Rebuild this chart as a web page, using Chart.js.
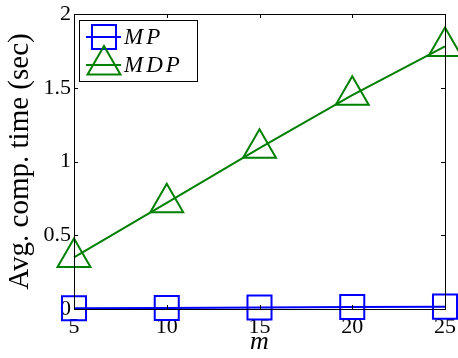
<!DOCTYPE html>
<html>
<head>
<meta charset="utf-8">
<script src="https://cdn.jsdelivr.net/npm/chart.js@4.4.0/dist/chart.umd.min.js"></script>
<style>
  html, body { margin: 0; padding: 0; background: #fff; }
  #wrap { width: 458px; height: 358px; position: relative; }
</style>
</head>
<body>
<div id="wrap"><canvas id="timeChart"></canvas></div>
<script>
const mValues = [5, 10, 15, 20, 25];
const mpTimes = [0.005, 0.007, 0.01, 0.013, 0.016];
const mdpTimes = [0.35, 0.72, 1.09, 1.45, 1.78];
const xTicks = [5, 10, 15, 20, 25];
const yTicks = [0, 0.5, 1, 1.5, 2];

const serif = "'Liberation Serif', 'DejaVu Serif', serif";

// box around the plot with inward ticks on all four sides
const frame = {
  id: 'frame',
  afterDatasetsDraw(chart) {
    const { ctx, chartArea: a, scales: { x, y } } = chart;
    ctx.save();
    ctx.strokeStyle = '#000';
    ctx.lineWidth = 1;
    ctx.strokeRect(a.left + 0.5, a.top + 0.5, a.right - a.left, a.bottom - a.top);
    ctx.beginPath();
    xTicks.forEach(v => {
      const px = Math.round(x.getPixelForValue(v)) + 0.5;
      ctx.moveTo(px, a.bottom); ctx.lineTo(px, a.bottom - 4);
      ctx.moveTo(px, a.top); ctx.lineTo(px, a.top + 4);
    });
    yTicks.forEach(v => {
      const py = Math.round(y.getPixelForValue(v)) + 0.5;
      ctx.moveTo(a.left, py); ctx.lineTo(a.left + 4, py);
      ctx.moveTo(a.right, py); ctx.lineTo(a.right - 4, py);
    });
    ctx.stroke();
    ctx.restore();
  }
};

// legend: line sample with marker, then italic label
const lineLegend = {
  id: 'lineLegend',
  afterDraw(chart) {
    const { ctx } = chart;
    ctx.save();
    ctx.fillStyle = '#fff';
    ctx.fillRect(79, 20, 118, 61);
    ctx.strokeStyle = '#000';
    ctx.lineWidth = 1;
    ctx.strokeRect(79.5, 20.5, 118, 61);
    const rows = [37, 65];
    chart.data.datasets.forEach((ds, i) => {
      const yy = rows[i];
      ctx.strokeStyle = ds.borderColor;
      ctx.lineWidth = 2;
      ctx.beginPath();
      ctx.moveTo(86, yy); ctx.lineTo(121, yy);
      ctx.stroke();
      ctx.fillStyle = 'rgba(0,0,0,0)';
      Chart.helpers.drawPoint(ctx, {
        pointStyle: ds.pointStyle,
        radius: ds.pointRadius,
        borderWidth: 2,
        rotation: 0
      }, 104, yy);
      ctx.fillStyle = '#000';
      ctx.font = 'italic 23px ' + serif;
      ctx.letterSpacing = '3px';
      ctx.textBaseline = 'middle';
      ctx.textAlign = 'left';
      ctx.fillText(ds.label, 124, yy + 1);
      ctx.letterSpacing = '0px';
    });
    ctx.restore();
  }
};

new Chart(document.getElementById('timeChart'), {
  type: 'line',
  data: {
    datasets: [
      {
        label: 'MP',
        data: mValues.map((m, i) => ({ x: m, y: mpTimes[i] })),
        borderColor: '#0000ff',
        backgroundColor: 'rgba(0,0,0,0)',
        borderWidth: 2,
        pointStyle: 'rect',
        pointRadius: 17,
        pointBorderWidth: 2,
        pointBackgroundColor: 'rgba(0,0,0,0)',
        pointBorderColor: '#0000ff',
        tension: 0,
        clip: false
      },
      {
        label: 'MDP',
        data: mValues.map((m, i) => ({ x: m, y: mdpTimes[i] })),
        borderColor: '#008000',
        backgroundColor: 'rgba(0,0,0,0)',
        borderWidth: 2,
        pointStyle: 'triangle',
        pointRadius: 19,
        pointBorderWidth: 2,
        pointBackgroundColor: 'rgba(0,0,0,0)',
        pointBorderColor: '#008000',
        tension: 0,
        clip: false
      }
    ]
  },
  options: {
    responsive: true,
    maintainAspectRatio: false,
    animation: false,
    layout: {
      autoPadding: false,
      padding: { left: 0, right: 13, top: 14, bottom: 0 }
    },
    plugins: {
      legend: { display: false },
      tooltip: { enabled: false }
    },
    scales: {
      x: {
        type: 'linear',
        min: 5,
        max: 25,
        afterBuildTicks: s => { s.ticks = xTicks.map(v => ({ value: v })); },
        afterFit: s => { s.height = 49; s.paddingLeft = 0; s.paddingRight = 0; },
        grid: { display: false, drawTicks: false },
        border: { display: false },
        ticks: {
          color: '#000',
          padding: 5,
          maxRotation: 0,
          callback: v => String(v),
          font: { family: serif, size: 22 }
        },
        title: {
          display: true,
          text: 'm',
          color: '#000',
          padding: { top: 0, bottom: 0 },
          font: { family: serif, size: 26, style: 'italic' }
        }
      },
      y: {
        min: 0,
        max: 2,
        afterBuildTicks: s => { s.ticks = yTicks.map(v => ({ value: v })); },
        afterFit: s => { s.width = 74; s.paddingTop = 0; s.paddingBottom = 0; },
        grid: { display: false, drawTicks: false },
        border: { display: false },
        ticks: {
          color: '#000',
          padding: 3,
          callback: v => String(v),
          font: { family: serif, size: 22 }
        },
        title: {
          display: true,
          text: 'Avg. comp. time (sec)',
          color: '#000',
          padding: { top: 3, bottom: 0 },
          font: { family: serif, size: 29 }
        }
      }
    }
  },
  plugins: [frame, lineLegend]
});
</script>
</body>
</html>
